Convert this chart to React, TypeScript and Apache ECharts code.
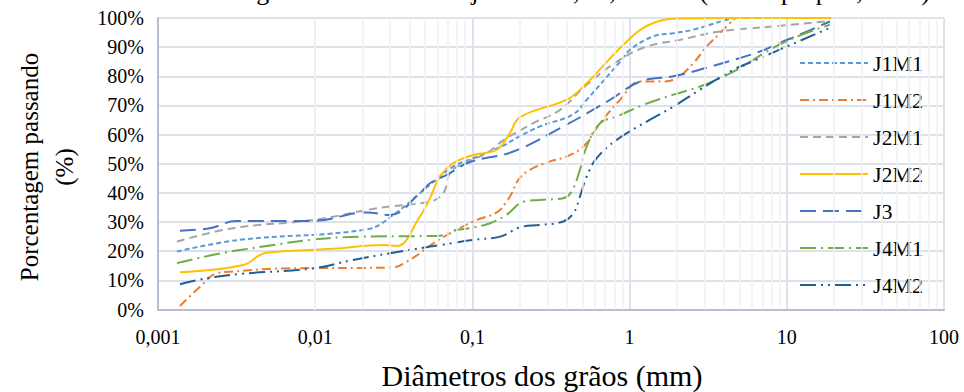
import React, { useEffect, useRef } from "react";
import * as echarts from "echarts";

// ---- data (diameter in mm, percent passing) ----
const SERIES_NAMES = ["J1M1", "J1M2", "J2M1", "J2M2", "J3", "J4M1", "J4M2"];

const J1M1: [number, number][] = [
  [0.00132, 19.9], [0.00332, 23.9], [0.0213, 27.5], [0.0313, 32.4], [0.0537, 42.8],
  [0.0756, 49.0], [0.1014, 51.9], [0.15, 55.7], [0.201, 59.5], [0.269, 62.8],
  [0.439, 67.0], [0.533, 71.9], [0.869, 85.0], [1.006, 89.1], [1.416, 93.7],
  [1.9, 94.8], [2.54, 96.0], [4.15, 99.4], [4.8, 100], [9.5, 100], [19, 100],
];
const J1M2: [number, number][] = [
  [0.00138, 1.2], [0.00185, 7.8], [0.00236, 12.4], [0.003, 13.0], [0.00624, 14.1],
  [0.0313, 14.4], [0.0382, 16.4], [0.0464, 19.3], [0.0564, 22.7], [0.0756, 26.7],
  [0.1065, 30.7], [0.143, 33.3], [0.165, 37.0], [0.178, 39.9], [0.196, 44.5],
  [0.232, 47.9], [0.312, 50.8], [0.398, 52.5], [0.508, 55.9], [0.649, 63.9],
  [0.869, 71.9], [1.165, 78.2], [1.638, 78.2], [1.995, 79.4], [2.543, 84.5],
  [3.091, 90.2], [3.76, 94.8], [4.35, 98.3], [4.8, 100], [9.5, 100], [19, 100],
];
const J2M1: [number, number][] = [
  [0.00132, 23.3], [0.003, 27.9], [0.00968, 30.7], [0.0246, 34.7], [0.0537, 37.0],
  [0.0622, 38.7], [0.067, 41.0], [0.072, 46.8], [0.0834, 49.6], [0.123, 53.6],
  [0.157, 58.0], [0.244, 63.9], [0.361, 68.5], [0.533, 77.1], [0.869, 85.7],
  [1.285, 90.2], [2.094, 92.5], [3.76, 95.4], [8.21, 97.1], [18.8, 99.0],
];
const J2M2: [number, number][] = [
  [0.00138, 12.8], [0.00349, 15.3], [0.00446, 18.7], [0.00491, 19.5], [0.013, 20.8],
  [0.027, 22.1], [0.033, 21.8], [0.0464, 31.9], [0.0537, 38.2], [0.0622, 45.6],
  [0.0756, 50.2], [0.1014, 53.0], [0.143, 54.8], [0.173, 60.5], [0.201, 66.0],
  [0.398, 72.0], [0.508, 76.5], [1.006, 93.0], [1.416, 98.3], [2.094, 99.8],
  [4.75, 100], [9.5, 100], [19, 100],
];
const J3: [number, number][] = [
  [0.00138, 27.0], [0.00214, 27.9], [0.00317, 30.4], [0.00968, 30.4], [0.0213, 33.3],
  [0.0299, 32.4], [0.0464, 39.9], [0.0537, 43.3], [0.0687, 46.2], [0.0966, 50.6],
  [0.182, 54.2], [0.379, 62.8], [0.75, 71.9], [1.165, 78.2], [1.897, 80.0],
  [3.41, 83.6], [6.76, 88.5], [9.06, 91.5], [12.1, 94.3], [18.8, 98.8],
];
const J4M1: [number, number][] = [
  [0.00132, 15.9], [0.00332, 20.4], [0.0193, 25.0], [0.0537, 25.2], [0.0622, 25.3],
  [0.0756, 27.1], [0.0966, 27.9], [0.1294, 29.6], [0.165, 32.5], [0.211, 37.0],
  [0.269, 37.6], [0.379, 38.2], [0.428, 40.5], [0.483, 47.9], [0.533, 55.9],
  [0.649, 63.9], [0.828, 66.2], [1.223, 70.2], [1.897, 73.7], [2.805, 76.5],
  [3.76, 79.4], [5.04, 82.8], [7.45, 88.5], [11.0, 93.1], [18.8, 97.7],
];
const J4M2: [number, number][] = [
  [0.00138, 8.65], [0.00204, 10.7], [0.00332, 12.2], [0.00968, 14.1], [0.0174, 17.0],
  [0.0299, 19.3], [0.0537, 21.6], [0.0622, 22.1], [0.1014, 23.9], [0.15, 25.0],
  [0.201, 28.2], [0.269, 29.0], [0.379, 30.2], [0.439, 33.0], [0.483, 38.7],
  [0.533, 45.6], [0.618, 51.9], [0.828, 58.2], [1.349, 65.1], [1.897, 69.6],
  [2.805, 75.4], [4.57, 82.2], [6.43, 85.7], [9.98, 90.2], [18.8, 96.6],
];

const X_TICK_LABELS = ["0,001", "0,01", "0,1", "1", "10", "100"];
const DECADES = [0.001, 0.01, 0.1, 1, 10];
const MINOR_STEPS = [2, 3, 4, 5, 6, 7, 8, 9];

const TITLE = "Curvas granulométricas das jazidas J1, J2, J3 e J4 (Fonte: própria, 2020)";
const X_TITLE = "Diâmetros dos grãos (mm)";
const Y_TITLE_1 = "Porcentagem passando";
const Y_TITLE_2 = "(%)";

const SERIF = "'Liberation Serif', 'Times New Roman', serif";

const STYLES: Record<string, { color: string; type: any }> = {
  J1M1: { color: "#5b9bd5", type: [5, 3] },
  J1M2: { color: "#ed7d31", type: [9, 4, 2, 4] },
  J2M1: { color: "#a5a5a5", type: [8, 5] },
  J2M2: { color: "#ffc000", type: "solid" },
  J3: { color: "#4472c4", type: [16, 7] },
  J4M1: { color: "#70ad47", type: [16, 5, 2, 5] },
  J4M2: { color: "#255e91", type: [16, 5, 2, 5, 2, 5] },
};

const DATA: Record<string, [number, number][]> = { J1M1, J1M2, J2M1, J2M2, J3, J4M1, J4M2 };

export default function App() {
  const ref = useRef<HTMLDivElement>(null);
  useEffect(() => {
    if (!ref.current) return;
    const chart = echarts.init(ref.current, undefined, { renderer: "svg" });
    const minor: number[] = [];
    DECADES.forEach((d) => MINOR_STEPS.forEach((m) => minor.push(d * m)));

    const lineSeries = SERIES_NAMES.map((n) => ({
      name: n,
      type: "line",
      data: DATA[n],
      smooth: 0.4,
      symbol: "none",
      z: 3,
      lineStyle: { color: STYLES[n].color, type: STYLES[n].type, width: 2, cap: "butt" },
      itemStyle: { color: STYLES[n].color },
    }));

    chart.setOption({
      animation: false,
      backgroundColor: "#ffffff",
      textStyle: { fontFamily: SERIF },
      grid: { left: 158, right: 20, top: 18, bottom: 82.5, containLabel: false },
      xAxis: {
        type: "log",
        logBase: 10,
        min: 0.001,
        max: 100,
        axisLine: { show: true, lineStyle: { color: "#b4bfcf", width: 2 } },
        axisTick: { show: false },
        axisLabel: {
          color: "#000",
          fontFamily: SERIF,
          fontSize: 20,
          margin: 17,
          formatter: (v: number) => X_TICK_LABELS[Math.round(Math.log10(v)) + 3] ?? "",
        },
        splitLine: { show: true, lineStyle: { color: "#dde2ea", width: 2 } },
      },
      yAxis: {
        type: "value",
        min: 0,
        max: 100,
        interval: 10,
        axisLine: { show: true, lineStyle: { color: "#b4bfcf", width: 2 } },
        axisTick: { show: false },
        axisLabel: { color: "#000", fontFamily: SERIF, fontSize: 20, margin: 14, formatter: "{value}%" },
        splitLine: { show: true, lineStyle: { color: "#dde2ea", width: 2 } },
      },
      legend: {
        data: SERIES_NAMES,
        orient: "vertical",
        left: 794,
        top: 47,
        itemWidth: 68,
        itemHeight: 14,
        itemGap: 15,
        itemStyle: { opacity: 0 },
        textStyle: { color: "#000", fontFamily: SERIF, fontSize: 22 },
      },
      graphic: [
        {
          type: "text",
          x: 176,
          y: 4,
          style: { text: TITLE, font: `26px ${SERIF}`, fill: "#000", textAlign: "left", textVerticalAlign: "bottom" },
        },
        {
          type: "text",
          x: 542,
          y: 375,
          style: { text: X_TITLE, font: `30px ${SERIF}`, fill: "#000", textAlign: "center", textVerticalAlign: "middle" },
        },
        {
          type: "text",
          x: 29,
          y: 167,
          rotation: Math.PI / 2,
          style: { text: Y_TITLE_1, font: `25px ${SERIF}`, fill: "#000", textAlign: "center", textVerticalAlign: "middle" },
        },
        {
          type: "text",
          x: 64,
          y: 167,
          rotation: Math.PI / 2,
          style: { text: Y_TITLE_2, font: `25px ${SERIF}`, fill: "#000", textAlign: "center", textVerticalAlign: "middle" },
        },
      ],
      series: [
        {
          name: "minor-grid",
          type: "line",
          data: [],
          z: 1,
          silent: true,
          markLine: {
            silent: true,
            symbol: "none",
            label: { show: false },
            animation: false,
            lineStyle: { color: "#eef1f5", type: "solid", width: 1.5 },
            data: minor.map((v) => ({ xAxis: v })),
          },
        },
        ...lineSeries,
      ],
    });
    return () => chart.dispose();
  }, []);
  return <div ref={ref} style={{ width: 964, height: 392, position: "absolute", left: 0, top: 0 }} />;
}
